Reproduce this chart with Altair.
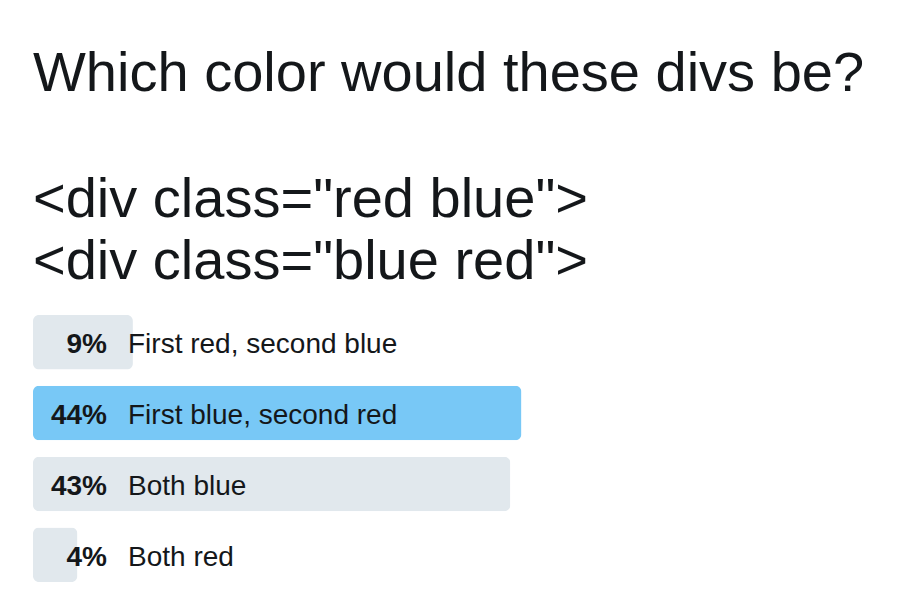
import altair as alt
import pandas as pd

title_text = "Which color would these divs be?"
subtitle_lines = ['<div class="red blue">', '<div class="blue red">']
options = ["First red, second blue", "First blue, second red", "Both blue", "Both red"]
percents = [9, 44, 43, 4]

FONT = "Liberation Sans"
TEXT = "#14171A"

df = pd.DataFrame({"option": options, "pct": percents})

base = (
    alt.Chart(df)
    .transform_joinaggregate(maxpct="max(pct)")
    .transform_calculate(label="datum.pct + '%'")
)

y = alt.Y("option:N", sort=options, axis=None,
          scale=alt.Scale(paddingInner=0.23, paddingOuter=0))
xscale = alt.Scale(domain=[0, 100], range=[0, 1110])

bars = base.mark_bar(cornerRadius=6).encode(
    x=alt.X("pct:Q", scale=xscale, axis=None),
    y=y,
    color=alt.condition("datum.pct == datum.maxpct",
                        alt.value("#78C8F6"), alt.value("#E1E8ED")),
)

pct_text = base.mark_text(
    align="right", baseline="alphabetic", dy=11, fontSize=28,
    fontWeight="bold", font=FONT, color=TEXT,
).encode(x=alt.value(74), y=y, text="label:N")

opt_text = base.mark_text(
    align="left", baseline="alphabetic", dy=11, fontSize=28,
    fontWeight="normal", font=FONT, color=TEXT,
).encode(x=alt.value(95), y=y, text="option:N")

chart = (
    alt.layer(bars, pct_text, opt_text)
    .properties(
        width=865,
        height=267,
        padding={"left": 33, "top": 46, "right": 0, "bottom": 19},
        title=alt.Title(
            title_text, subtitle=subtitle_lines, anchor="start",
            fontSize=56, font=FONT, fontWeight="normal", color=TEXT,
            subtitleFontSize=56, subtitleFont=FONT, subtitleColor=TEXT,
            subtitleFontWeight="normal", subtitleLineHeight=62,
            subtitlePadding=70, offset=24,
        ),
    )
    .configure_view(stroke=None)
)

chart.save("out.html", embed_options={"renderer": "svg", "actions": False})
